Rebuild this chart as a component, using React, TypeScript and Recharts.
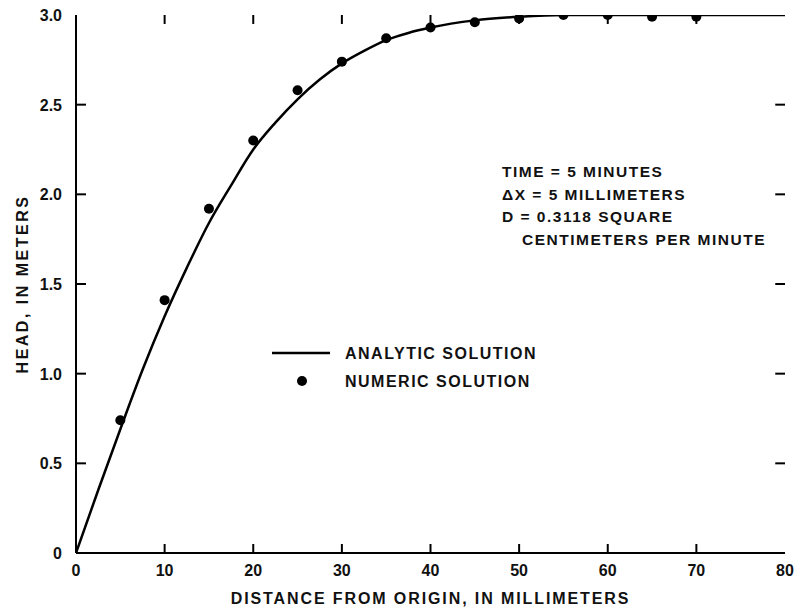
import {
  ComposedChart,
  Line,
  Scatter,
  XAxis,
  YAxis,
  Label,
  ReferenceLine,
} from 'recharts';

// analytic solution
const analyticDistance = [0, 2.5, 5, 7.5, 10, 12.5, 15, 17.5, 20, 22.5, 25, 27.5, 30, 32.5, 35, 37.5, 40, 45, 50, 55, 60, 65, 70, 75, 80];
const analyticHead = [0, 0.35, 0.69, 1.02, 1.32, 1.59, 1.84, 2.05, 2.25, 2.4, 2.53, 2.64, 2.73, 2.8, 2.86, 2.9, 2.93, 2.97, 2.99, 3.0, 3.0, 3.0, 3.0, 3.0, 3.0];

// numeric solution points
const numericDistance = [5, 10, 15, 20, 25, 30, 35, 40, 45, 50, 55, 60, 65, 70];
const numericHead = [0.74, 1.41, 1.92, 2.3, 2.58, 2.74, 2.87, 2.93, 2.96, 2.98, 3.0, 3.0, 2.99, 2.99];

const xTicks = [0, 10, 20, 30, 40, 50, 60, 70, 80];
const yTicks = [0, 0.5, 1.0, 1.5, 2.0, 2.5, 3.0];

const annotationLines = [
  'TIME = 5 MINUTES',
  '\u0394X = 5 MILLIMETERS',
  'D = 0.3118 SQUARE',
  'CENTIMETERS PER MINUTE',
];

const X_MIN = 0;
const X_MAX = 80;
const Y_MIN = 0;
const Y_MAX = 3;
// inward tick length, in axis units (~9px each way)
const X_TICK_LEN = 1.1;
const Y_TICK_LEN = 0.05;
const EDGE = 0.0001;

const FONT = '"Liberation Sans", Arial, sans-serif';
const TEXT_STYLE = { fontFamily: FONT, fontSize: 16, fontWeight: 700, fill: '#111' };
const AXIS_LINE = { stroke: '#000', strokeWidth: 2 };

const analyticData = analyticDistance.map((d, i) => ({ distance: d, analytic: analyticHead[i] }));
const numericData = numericDistance.map((d, i) => ({ distance: d, numeric: numericHead[i] }));

const innerXTicks = xTicks.filter((t) => t > X_MIN && t < X_MAX);
const innerYTicks = yTicks.filter((t) => t > Y_MIN && t < Y_MAX);

// anchor points for the bottom / left inward tick marks
const bottomTickData = innerXTicks.map((t) => ({ distance: t, mark: Y_MIN + EDGE }));
const leftTickData = innerYTicks.map((t) => ({ distance: X_MIN + EDGE, mark: t }));

const renderBottomTick = (props: any) => {
  const { x, y, payload } = props;
  return (
    <text x={x} y={y + 23} textAnchor="middle" style={TEXT_STYLE}>
      {payload.value}
    </text>
  );
};

const renderLeftTick = (props: any) => {
  const { x, y, payload } = props;
  const v = payload.value === 0 ? '0' : Number(payload.value).toFixed(1);
  return (
    <text x={x - 14} y={y + 6} textAnchor="end" style={TEXT_STYLE}>
      {v}
    </text>
  );
};

export default function App() {
  return (
    <div style={{ position: 'absolute', left: 0, top: 0, width: 795, height: 607, background: '#fff' }}>
      <ComposedChart width={795} height={607} margin={{ top: 15, right: 10, bottom: 0, left: 0 }}>
        <XAxis
          xAxisId="bottom"
          dataKey="distance"
          type="number"
          domain={[X_MIN, X_MAX]}
          ticks={xTicks}
          height={54}
          tickSize={0}
          tickMargin={0}
          tickLine={false}
          axisLine={AXIS_LINE}
          tick={renderBottomTick}
          interval={0}
          allowDataOverflow
        >
          <Label
            value="DISTANCE FROM ORIGIN, IN MILLIMETERS"
            position="insideBottom"
            offset={3}
            style={{ ...TEXT_STYLE, letterSpacing: 1.9 }}
          />
        </XAxis>
        <XAxis
          xAxisId="top"
          orientation="top"
          type="number"
          domain={[X_MIN, X_MAX]}
          height={0}
          tick={false}
          tickLine={false}
          axisLine={AXIS_LINE}
        />
        <YAxis
          yAxisId="left"
          type="number"
          domain={[Y_MIN, Y_MAX]}
          ticks={yTicks}
          width={76}
          tickSize={0}
          tickMargin={0}
          tickLine={false}
          axisLine={AXIS_LINE}
          tick={renderLeftTick}
          interval={0}
          allowDataOverflow
        >
          <Label
            value="HEAD, IN METERS"
            angle={-90}
            position="insideLeft"
            offset={22}
            style={{ ...TEXT_STYLE, textAnchor: 'middle', letterSpacing: 2.5 }}
          />
        </YAxis>
        <YAxis
          yAxisId="right"
          orientation="right"
          type="number"
          domain={[Y_MIN, Y_MAX]}
          width={0}
          tick={false}
          tickLine={false}
          axisLine={AXIS_LINE}
        />

        {/* inward tick marks, top and right */}
        {innerXTicks.map((t) => (
          <ReferenceLine
            key={`xt-${t}`}
            xAxisId="bottom"
            yAxisId="left"
            ifOverflow="visible"
            segment={[{ x: t, y: Y_MAX }, { x: t, y: Y_MAX - Y_TICK_LEN }]}
            stroke="#000"
            strokeWidth={2}
          />
        ))}
        {innerYTicks.map((t) => (
          <ReferenceLine
            key={`yr-${t}`}
            xAxisId="bottom"
            yAxisId="left"
            ifOverflow="visible"
            segment={[{ x: X_MAX, y: t }, { x: X_MAX - X_TICK_LEN, y: t }]}
            stroke="#000"
            strokeWidth={2}
          />
        ))}

        {/* inward tick marks, bottom and left */}
        <Scatter
          xAxisId="bottom"
          yAxisId="left"
          data={bottomTickData}
          dataKey="mark"
          legendType="none"
          shape={(p: any) => <path d={`M${p.cx},${p.cy}V${p.cy - 9}`} stroke="#000" strokeWidth={2} fill="none" />}
          isAnimationActive={false}
        />
        <Scatter
          xAxisId="bottom"
          yAxisId="left"
          data={leftTickData}
          dataKey="mark"
          legendType="none"
          shape={(p: any) => <path d={`M${p.cx},${p.cy}H${p.cx + 10}`} stroke="#000" strokeWidth={2} fill="none" />}
          isAnimationActive={false}
        />

        <Line
          xAxisId="bottom"
          yAxisId="left"
          data={analyticData}
          dataKey="analytic"
          type="monotone"
          stroke="#000"
          strokeWidth={2.5}
          dot={false}
          isAnimationActive={false}
        />
        <Scatter
          xAxisId="bottom"
          yAxisId="left"
          data={numericData}
          dataKey="numeric"
          fill="#000"
          shape={(p: any) => <circle cx={p.cx} cy={p.cy} r={5} fill="#000" />}
          isAnimationActive={false}
        />
      </ComposedChart>

      {/* annotation */}
      <div
        style={{
          position: 'absolute',
          left: 502,
          top: 161,
          fontFamily: FONT,
          fontSize: 15.5,
          fontWeight: 700,
          letterSpacing: 1.5,
          lineHeight: '22.5px',
          whiteSpace: 'pre',
          color: '#111',
        }}
      >
        {annotationLines.map((t, i) => (
          <div key={t} style={{ paddingLeft: i === 3 ? 20 : 0 }}>{t}</div>
        ))}
      </div>

      {/* legend */}
      <svg style={{ position: 'absolute', left: 260, top: 338 }} width={320} height={60}>
        <line x1={12} y1={15} x2={70} y2={15} stroke="#000" strokeWidth={2.5} />
        <circle cx={42} cy={43} r={5} fill="#000" />
        <text x={85} y={21} style={{ ...TEXT_STYLE, letterSpacing: 1.5 }}>ANALYTIC SOLUTION</text>
        <text x={85} y={49} style={{ ...TEXT_STYLE, letterSpacing: 1.5 }}>NUMERIC SOLUTION</text>
      </svg>
    </div>
  );
}
